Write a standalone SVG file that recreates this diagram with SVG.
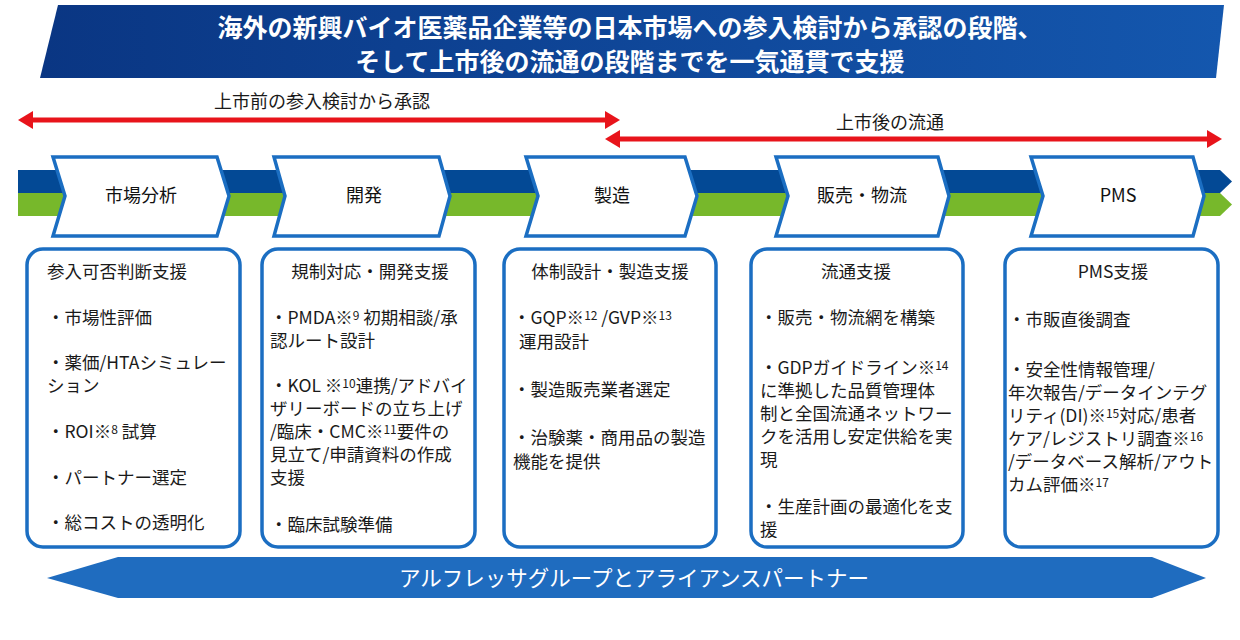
<svg xmlns="http://www.w3.org/2000/svg" width="1240" height="640" viewBox="0 0 1240 640">
<style>
text{font-family:"Noto Sans CJK JP","Noto Sans",sans-serif}
.hd{fill:#fff;font-size:25px;font-weight:700;text-anchor:middle}
.lb{fill:#1a1a1a;font-size:18px;text-anchor:middle}
.chev{fill:#fff;stroke:#1b6ec2;stroke-width:3.5;stroke-linejoin:miter}
.ct{fill:#111;font-size:18px;text-anchor:middle}
.box{fill:#fff;stroke:#1b6ec2;stroke-width:3.5}
.t{fill:#1a1a1a;font-size:17.5px}
.m{text-anchor:middle}
.s{font-size:12px;baseline-shift:4px}
.red{stroke:#e8141b;stroke-width:5;fill:none}
</style>
<defs>
<linearGradient id="hg" x1="0" y1="0" x2="1" y2="0">
<stop offset="0" stop-color="#0a3683"/>
<stop offset="1" stop-color="#1457ae"/>
</linearGradient>
<marker id="ah" markerUnits="userSpaceOnUse" markerWidth="16" markerHeight="18" refX="0" refY="9" orient="auto-start-reverse">
<path d="M0,0 L15,9 L0,18 z" fill="#e8141b"/>
</marker>
</defs>

<g id="header">
<polygon points="58,5 1224,5 1216,78 40,78" fill="url(#hg)"/>
<text class="hd" x="630" y="37">海外の新興バイオ医薬品企業等の日本市場への参入検討から承認の段階、</text>
<text class="hd" x="630" y="71">そして上市後の流通の段階までを一気通貫で支援</text>
</g>

<g id="phases">
<text class="lb" x="322" y="108">上市前の参入検討から承認</text>
<text class="lb" x="890" y="129">上市後の流通</text>
</g>

<g id="bands">
<polygon points="18,170 1220,170 1232,181.5 1220,193 18,193" fill="#034995"/>
<polygon points="18,193 1220,193 1232,204.5 1220,216 18,216" fill="#77b82b"/>
</g>

<g id="connectors">
<line class="red" x1="33" y1="120" x2="605" y2="120" marker-start="url(#ah)" marker-end="url(#ah)"/>
<line class="red" x1="620" y1="139" x2="1207" y2="139" marker-start="url(#ah)" marker-end="url(#ah)"/>
</g>

<g id="stage-market">
<polygon class="chev" points="53,157 217,157 229,196 217,236 53,236 65,196"/>
<text class="ct" x="141" y="202">市場分析</text>
</g>
<g id="stage-dev">
<polygon class="chev" points="274,157 439,157 450,196 439,236 274,236 285,196"/>
<text class="ct" x="364" y="202">開発</text>
</g>
<g id="stage-mfg">
<polygon class="chev" points="526,157 685,157 697,196 685,236 526,236 538,196"/>
<text class="ct" x="612" y="202">製造</text>
</g>
<g id="stage-dist">
<polygon class="chev" points="776,157 938,157 949,196 938,236 776,236 788,196"/>
<text class="ct" x="862" y="202">販売・物流</text>
</g>
<g id="stage-pms">
<polygon class="chev" points="1031,157 1193,157 1204,196 1193,236 1031,236 1043,196"/>
<text class="ct" x="1118" y="202">PMS</text>
</g>

<g id="box-market">
<rect class="box" x="27" y="249" width="213" height="298" rx="16"/>
<text class="t" x="47" y="278">参入可否判断支援</text>
<text class="t" x="47" y="324">・市場性評価</text>
<text class="t"><tspan x="47" y="369">・薬価/HTAシミュレー</tspan><tspan x="47" y="392">ション</tspan></text>
<text class="t" x="47" y="438">・ROI※<tspan class="s">8</tspan> 試算</text>
<text class="t" x="47" y="484">・パートナー選定</text>
<text class="t" x="47" y="529">・総コストの透明化</text>
</g>

<g id="box-dev">
<rect class="box" x="262" y="249" width="213" height="298" rx="16"/>
<text class="t m" x="370" y="278">規制対応・開発支援</text>
<text class="t"><tspan x="270" y="324">・PMDA※<tspan class="s">9</tspan> 初期相談/承</tspan><tspan x="270" y="347">認ルート設計</tspan></text>
<text class="t"><tspan x="270" y="392">・KOL ※<tspan class="s">10</tspan>連携/アドバイ</tspan><tspan x="270" y="415">ザリーボードの立ち上げ</tspan><tspan x="270" y="438">/臨床・CMC※<tspan class="s">11</tspan>要件の</tspan><tspan x="270" y="461">見立て/申請資料の作成</tspan><tspan x="270" y="484">支援</tspan></text>
<text class="t" x="270" y="531">・臨床試験準備</text>
</g>

<g id="box-mfg">
<rect class="box" x="504" y="249" width="212" height="298" rx="16"/>
<text class="t m" x="610" y="278">体制設計・製造支援</text>
<text class="t"><tspan x="513" y="324">・GQP※<tspan class="s">12</tspan> /GVP※<tspan class="s">13</tspan></tspan><tspan x="519" y="348">運用設計</tspan></text>
<text class="t" x="513" y="396">・製造販売業者選定</text>
<text class="t"><tspan x="513" y="444">・治験薬・商用品の製造</tspan><tspan x="513" y="468">機能を提供</tspan></text>
</g>

<g id="box-dist">
<rect class="box" x="751" y="249" width="212" height="298" rx="16"/>
<text class="t m" x="856" y="278">流通支援</text>
<text class="t" x="760" y="324">・販売・物流網を構築</text>
<text class="t"><tspan x="760" y="374">・GDPガイドライン※<tspan class="s">14</tspan></tspan><tspan x="760" y="397">に準拠した品質管理体</tspan><tspan x="760" y="420">制と全国流通ネットワー</tspan><tspan x="760" y="443">クを活用し安定供給を実</tspan><tspan x="760" y="466">現</tspan></text>
<text class="t"><tspan x="760" y="513">・生産計画の最適化を支</tspan><tspan x="760" y="536">援</tspan></text>
</g>

<g id="box-pms">
<rect class="box" x="1005" y="249" width="213" height="298" rx="16"/>
<text class="t m" x="1113" y="278">PMS支援</text>
<text class="t" x="1008" y="326">・市販直後調査</text>
<text class="t"><tspan x="1008" y="376">・安全性情報管理/</tspan><tspan x="1008" y="399">年次報告/データインテグ</tspan><tspan x="1008" y="422">リティ(DI)※<tspan class="s">15</tspan>対応/患者</tspan><tspan x="1008" y="445">ケア/レジストリ調査※<tspan class="s">16</tspan></tspan><tspan x="1008" y="468">/データベース解析/アウト</tspan><tspan x="1008" y="491">カム評価※<tspan class="s">17</tspan></tspan></text>
</g>

<g id="alliance">
<polygon points="47,578 118,557 1152,557 1206,578 1152,598 118,598" fill="#1f6cbf"/>
<text x="634" y="586" fill="#fff" font-size="21.5" text-anchor="middle">アルフレッサグループとアライアンスパートナー</text>
</g>
</svg>
